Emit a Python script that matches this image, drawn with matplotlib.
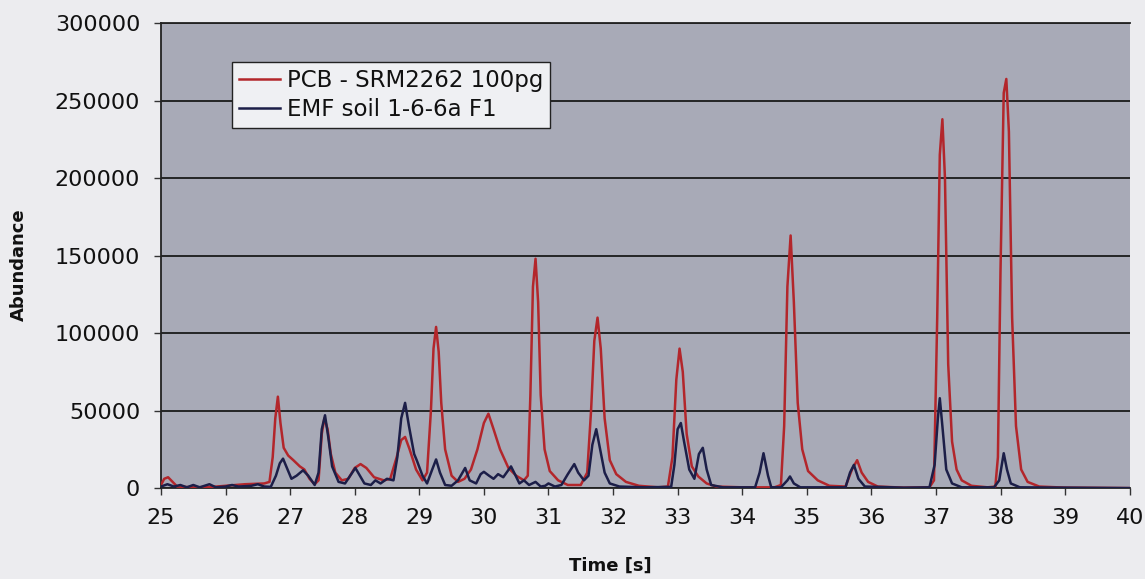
import matplotlib
matplotlib.use("Agg")
import matplotlib.pyplot as plt

# ---- data ----
pcb_time = [25.00, 25.05, 25.11, 25.18, 25.25, 25.5, 25.8, 26.0, 26.3, 26.6, 26.68, 26.73, 26.77, 26.81,
            26.85, 26.90, 26.97, 27.05, 27.15, 27.22, 27.30, 27.38, 27.44, 27.49, 27.53, 27.58, 27.63,
            27.70, 27.80, 27.90, 28.00, 28.09, 28.18, 28.30, 28.45, 28.55, 28.65, 28.72, 28.78, 28.85,
            28.95, 29.05, 29.12, 29.18, 29.22, 29.26, 29.30, 29.34, 29.40, 29.50, 29.60, 29.70, 29.80,
            29.90, 30.00, 30.07, 30.15, 30.25, 30.38, 30.50, 30.62, 30.68, 30.72, 30.76, 30.80, 30.84,
            30.88, 30.94, 31.02, 31.15, 31.30, 31.50, 31.60, 31.66, 31.71, 31.76, 31.81, 31.87, 31.95,
            32.05, 32.20, 32.40, 32.70, 32.85, 32.92, 32.98, 33.03, 33.08, 33.14, 33.22, 33.32, 33.45,
            33.60, 34.0, 34.5, 34.60, 34.65, 34.70, 34.75, 34.80, 34.86, 34.93, 35.02, 35.17, 35.35,
            35.60, 35.70, 35.78, 35.85, 35.95, 36.10, 36.5, 36.9, 36.97, 37.02, 37.06, 37.10, 37.14,
            37.19, 37.25, 37.32, 37.40, 37.55, 37.8, 37.92, 37.96, 38.00, 38.05, 38.09, 38.13, 38.18,
            38.24, 38.32, 38.42, 38.6, 39.0, 40.0]
pcb_abund = [2000, 6000, 7000, 4000, 1000, 500, 800, 1500, 2500, 3000, 4000, 20000, 45000, 59000,
             42000, 26000, 21000, 18000, 14000, 12000, 6000, 2500, 5000, 35000, 45000, 38000, 22000,
             10000, 5000, 6000, 13000, 15500, 13000, 7000, 5000, 6000, 20000, 31000, 33000, 25000,
             12000, 5000, 10000, 50000, 90000, 104000, 88000, 55000, 25000, 8000, 4000, 6000, 12000,
             25000, 42000, 48000, 38000, 25000, 13000, 8000, 5000, 8000, 60000, 130000, 148000, 120000,
             60000, 25000, 11000, 5000, 2000, 2000, 10000, 50000, 95000, 110000, 90000, 45000, 18000,
             9000, 4000, 1500, 500, 1000, 20000, 70000, 90000, 75000, 35000, 14000, 7500, 3000,
             1000, 500, 500, 2000, 40000, 130000, 163000, 120000, 55000, 25000, 11000, 5000, 1500,
             1000, 12000, 18000, 10000, 4000, 1000, 300, 500, 5000, 110000, 215000, 238000, 200000,
             80000, 30000, 12000, 5000, 1500, 500, 1000, 20000, 140000, 255000, 264000, 230000, 110000,
             40000, 12000, 4000, 1000, 300, 0]

emf_time = [25.00, 25.1, 25.2, 25.3, 25.4, 25.5, 25.6, 25.75, 25.85, 26.0, 26.1, 26.2, 26.4, 26.5, 26.6,
            26.7, 26.78, 26.84, 26.89, 26.95, 27.02, 27.10, 27.20, 27.28, 27.38, 27.44, 27.49, 27.54,
            27.59, 27.65, 27.75, 27.85, 27.93, 28.01, 28.08, 28.15, 28.25, 28.32, 28.40, 28.50, 28.60,
            28.66, 28.72, 28.78, 28.84, 28.92, 28.96, 29.05, 29.12, 29.20, 29.26, 29.32, 29.40, 29.50,
            29.60, 29.71, 29.78, 29.88, 29.95, 30.00, 30.08, 30.15, 30.22, 30.30, 30.42, 30.48, 30.55,
            30.62, 30.70, 30.80, 30.88, 30.95, 31.0, 31.1, 31.20, 31.30, 31.40, 31.46, 31.55, 31.62,
            31.68, 31.74, 31.80, 31.87, 31.95, 32.10, 32.5, 32.9, 32.95, 33.00, 33.05, 33.10, 33.18,
            33.26, 33.33, 33.39, 33.45, 33.52, 33.7, 34.2, 34.27, 34.33, 34.40, 34.45, 34.6, 34.70,
            34.74, 34.80, 34.9, 35.6, 35.67, 35.73, 35.80, 35.90, 36.5, 36.9, 36.98, 37.03, 37.06,
            37.10, 37.16, 37.25, 37.4, 37.9, 37.98, 38.02, 38.05, 38.10, 38.16, 38.3, 39.0, 40.0]
emf_abund = [1000, 2500, 1000, 2000, 500, 2000, 500, 2500, 500, 1000, 2000, 1000, 1500, 2500, 1000,
             800, 8000, 16000, 19000, 13000, 6000, 8000, 11500, 8000, 2000, 10000, 38000, 47000,
             33000, 14000, 4000, 3000, 8000, 13000, 8000, 3000, 2000, 5000, 3000, 6000, 5000,
             20000, 45000, 55000, 40000, 22000, 18000, 8000, 3000, 12000, 18500, 10000, 2000, 1500,
             5000, 13000, 5000, 3000, 9000, 10500, 8000, 6000, 9000, 7000, 14000, 9000, 3000,
             5000, 2000, 4000, 1000, 1500, 3000, 1000, 2000, 9000, 15500, 10000, 5000, 8000,
             28000, 38000, 25000, 10000, 3000, 1000, 500, 800, 15000, 38000, 42000, 30000, 12000,
             6000, 22000, 26000, 12000, 2000, 500, 500, 10000, 22500, 8000, 500, 500, 5000,
             7500, 3000, 500, 500, 10000, 15000, 6000, 1000, 300, 500, 15000, 45000, 58000,
             40000, 12000, 3000, 500, 500, 5000, 15000, 22500, 12000, 3000, 500, 300, 0]

series_labels = ["PCB - SRM2262 100pg", "EMF soil 1-6-6a F1"]
x_ticks = list(range(25, 41))
y_ticks = [0, 50000, 100000, 150000, 200000, 250000, 300000]

# ---- plot ----
plt.rcParams['font.family'] = ['DejaVu Sans']

fig = plt.figure(figsize=(11.45, 5.79), dpi=100, facecolor='#ececef')
ax = fig.add_axes([0.1406, 0.157, 0.846, 0.803])
ax.set_facecolor('#a8aab7')

ax.plot(pcb_time, pcb_abund, color='#b3262b', lw=1.8, label=series_labels[0], zorder=3)
ax.plot(emf_time, emf_abund, color='#1c1e48', lw=1.8, label=series_labels[1], zorder=4)

ax.set_xlim(25, 40)
ax.set_ylim(0, 300000)
ax.set_xticks(x_ticks)
ax.set_yticks(y_ticks)
ax.set_xticklabels([str(t) for t in x_ticks])
ax.set_yticklabels([str(v) for v in y_ticks])
ax.tick_params(axis='both', labelsize=16, direction='out', length=5, width=1, color='#333333',
               labelcolor='#111111')
ax.tick_params(axis='x', pad=9)
ax.tick_params(axis='y', pad=10)

ax.yaxis.grid(True, color='#1a1a1a', lw=1.3)
ax.set_axisbelow(True)
for s in ['left', 'bottom', 'top']:
    ax.spines[s].set_color('#222222')
    ax.spines[s].set_linewidth(1.3)
ax.spines['right'].set_visible(False)

ax.set_xlabel('Time [s]', fontsize=13, fontweight='bold', color='#111111')
ax.set_ylabel('Abundance', fontsize=13, fontweight='bold', color='#111111')
ax.xaxis.set_label_coords(0.464, -0.148)
ax.yaxis.set_label_coords(-0.137, 0.48)

leg = ax.legend(loc='upper left', bbox_to_anchor=(0.0733, 0.916), fontsize=16.5, frameon=True,
                fancybox=False, edgecolor='#222222', facecolor='#eff0f3', framealpha=1,
                handlelength=1.8, handletextpad=0.3, borderpad=0.3, labelspacing=0.25,
                borderaxespad=0)
leg.get_frame().set_linewidth(1.0)
for t in leg.get_texts():
    t.set_color('#111111')

fig.savefig('out.png', dpi=100, facecolor=fig.get_facecolor())
